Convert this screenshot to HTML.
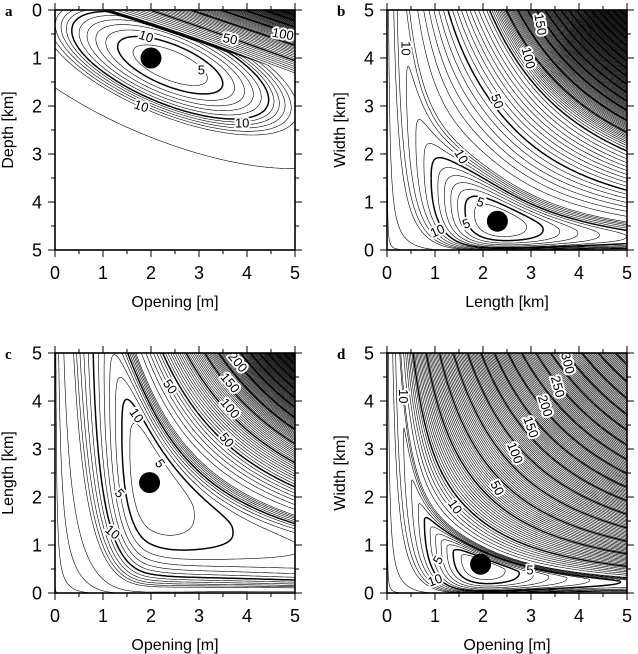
<!DOCTYPE html>
<html><head><meta charset="utf-8">
<style>
html,body{margin:0;padding:0;background:#fff;}
svg{display:block;font-family:"Liberation Sans",sans-serif;}
.tick{font-size:18px;fill:#000;}
.title{font-size:16px;fill:#000;}
.plet{font-family:"Liberation Serif",serif;font-weight:bold;font-size:15px;}
.clab{font-size:13px;fill:#000;stroke:#fff;stroke-width:4px;paint-order:stroke;stroke-linejoin:round;}
</style></head>
<body>
<svg id="fig" width="638" height="654" viewBox="0 0 638 654"></svg>
<script>
// ---- data arrays ----
const panelIds = ['a','b','c','d'];
const xTitles = ['Opening [m]','Length [km]','Opening [m]','Opening [m]'];
const yTitles = ['Depth [km]','Width [km]','Length [km]','Width [km]'];
const tickValues = [0,1,2,3,4,5];
const tickLabels = ['0','1','2','3','4','5'];
const bestX = [2.0, 2.3, 1.97, 1.95];
const bestY = [1.0, 0.6, 2.3, 0.6];
const valleyProduct = [0, 1.38, 4.6, 1.17];
const upperK = [0, 13.3, 71, 55];
const upperP = [0, 2.75, 3.6, 2.2];
const extraK = [0, 800, 600, 80];
const extraStart = [0, 2.0, 1.2, 1.8];
const lowerK = [0, 2, 3.3, 2];
const alongB = [0, 12, 12, 12];
const alongBRight = [0, 12, 5, 12];
const levels = [4,5,6,7,8,9,10,11,12,13,14,15];
for (let v = 20; v <= 1500; v += 5) levels.push(v);
const boldLevels = [5,10];
for (let v = 50; v <= 1500; v += 50) boldLevels.push(v);
const labelText = [
 ['10','5','10','10','50','100'],
 ['10','150','100','50','10','5','5','10'],
 ['200','150','100','50','50','10','5','5','10'],
 ['10','300','250','200','150','100','50','10','5','5','10']];
const labelX = [
 [1.9,3.05,1.8,3.9,3.65,4.75],
 [0.4,3.2,2.95,2.3,1.55,1.95,1.65,1.05],
 [3.81,3.65,3.65,2.4,3.58,1.7,2.19,1.35,1.2],
 [0.34,3.77,3.56,3.3,3.0,2.67,2.3,1.42,1.06,2.98,1.0]];
const labelY = [
 [0.55,1.25,2.0,2.35,0.6,0.5],
 [4.2,4.7,4.0,3.1,1.95,1.0,0.55,0.4],
 [4.81,4.38,3.85,4.3,3.19,3.7,2.7,2.08,1.27],
 [4.1,4.79,4.3,3.9,3.46,2.92,2.19,1.8,0.69,0.48,0.27]];
const labelAngle = [
 [18,0,18,0,12,10],
 [90,80,75,70,60,20,-20,-25],
 [50,50,50,55,50,55,55,50,40],
 [90,75,75,72,70,68,62,55,-60,0,-20]];

// ---- layout ----
const X0 = [55,387,55,387], YT = [10,10,353,353], SZ = 240, U = 48;
const NS = 'http://www.w3.org/2000/svg';
const svg = document.getElementById('fig');
function mk(tag, attrs, parent){const e=document.createElementNS(NS,tag);for(const k in attrs)e.setAttribute(k,attrs[k]);(parent||svg).appendChild(e);return e;}

function field(p, x, y){
  x = Math.max(x, 0.004); y = Math.max(y, 0.004);
  if (p === 0){
    const dx=x-2.4, dy=y-1.15;
    const s=dx*0.924+dy*0.383, t=-dx*0.383+dy*0.924;
    const Q=(s/1.23)*(s/1.23)+(t/0.45)*(t/0.45);
    const R = Q<=3.2 ? 2.2*Q : 7+11*(1-Math.exp(-(Q-3.2)*0.28));
    const a = Math.max(0, x-1-3*y);
    return 3 + R + 35*a + 3*a*a*a;
  }
  const L = Math.log(x*y/valleyProduct[p]);
  let g;
  if (L>0){
    const e = Math.max(0, L-extraStart[p]);
    g = upperK[p]*Math.pow(L,upperP[p]) + extraK[p]*e*e;
  } else {
    g = lowerK[p]*L*L/(1+0.15*L*L);
  }
  const s = Math.log(x/bestX[p]);
  const B = s>0 ? alongBRight[p] : alongB[p];
  return 3 + g + B*s*s/(0.6+s*s);
}

for (let p=0;p<4;p++){
  const x0=X0[p], yt=YT[p];
  const xs = v => x0 + v*U;
  const ys = v => p===0 ? yt + v*U : yt + SZ - v*U;
  const g = mk('g',{},svg);
  
  
  const cp = mk('clipPath',{id:'clip'+p},g);
  mk('rect',{x:x0,y:yt,width:SZ,height:SZ},cp);
  const N=240, vals=new Float64Array((N+1)*(N+1));
  for(let j=0;j<=N;j++)for(let i=0;i<=N;i++){
    const dx=i/N*5, dv=j/N*5;
    const dy = p===0 ? dv : 5-dv;
    vals[j*(N+1)+i]=field(p,dx,dy);
  }
  const paths = levels.map(()=>[]);
  const cs = SZ/N;
  for(let j=0;j<N;j++)for(let i=0;i<N;i++){
    const a=vals[j*(N+1)+i], b=vals[j*(N+1)+i+1], c=vals[(j+1)*(N+1)+i+1], d=vals[(j+1)*(N+1)+i];
    const mn=Math.min(a,b,c,d), mx=Math.max(a,b,c,d);
    for(let k=0;k<levels.length;k++){
      const L=levels[k]; if(L<mn) continue; if(L>mx) break;
      const px=x0+i*cs, py=yt+j*cs, pts=[];
      if((a<L)!==(b<L)) pts.push([px+cs*(L-a)/(b-a), py]);
      if((b<L)!==(c<L)) pts.push([px+cs, py+cs*(L-b)/(c-b)]);
      if((c<L)!==(d<L)) pts.push([px+cs*(L-d)/(c-d), py+cs]);
      if((d<L)!==(a<L)) pts.push([px, py+cs*(L-a)/(d-a)]);
      for(let q=0;q+1<pts.length;q+=2)
        paths[k].push('M'+pts[q][0].toFixed(1)+' '+pts[q][1].toFixed(1)+'L'+pts[q+1][0].toFixed(1)+' '+pts[q+1][1].toFixed(1));
    }
  }
  const cg = mk('g',{'clip-path':'url(#clip'+p+')'},g);
  for(let k=0;k<levels.length;k++){
    if(!paths[k].length) continue;
    const bold = boldLevels.includes(levels[k]);
    const e = mk('path',{d:paths[k].join(''),fill:'none',stroke:'#000','stroke-width':bold?1.5:0.6},cg);
    
    
  }
  for(let k=0;k<labelText[p].length;k++){
    const lx=xs(labelX[p][k]), ly=ys(labelY[p][k]);
    const t = mk('text',{x:lx,y:ly+4.5,'text-anchor':'middle',class:'clab',transform:'rotate('+labelAngle[p][k]+' '+lx+' '+ly+')'},g);
    t.textContent = labelText[p][k];
    
    
  }
  const dot = mk('circle',{cx:xs(bestX[p]),cy:ys(bestY[p]),r:10.5,fill:'#000'},g);
  
  
  const fr = mk('rect',{x:x0,y:yt,width:SZ,height:SZ,fill:'none',stroke:'#000','stroke-width':1.6},g);
  
  
  let td='';
  for(let v=0;v<=10;v++){
    const len = v%2===0?7:4, o=v*U/2;
    td+='M'+(x0+o)+' '+(yt+SZ)+'v'+len+'M'+(x0+o)+' '+yt+'v'+(-len);
    td+='M'+x0+' '+(yt+o)+'h'+(-len)+'M'+(x0+SZ)+' '+(yt+o)+'h'+len;
  }
  const tk = mk('path',{d:td,stroke:'#000','stroke-width':1,fill:'none'},g);
  
  
  for(let k=0;k<tickValues.length;k++){
    const tx = mk('text',{x:xs(tickValues[k]),y:yt+SZ+29,'text-anchor':'middle',class:'tick'},g);
    tx.textContent=tickLabels[k];
    
    
    const ty = mk('text',{x:x0-13,y:ys(tickValues[k])+6.5,'text-anchor':'end',class:'tick'},g);
    ty.textContent=tickLabels[k];
    
    
  }
  const xt = mk('text',{x:x0+SZ/2,y:yt+SZ+57,'text-anchor':'middle',class:'title'},g);
  xt.textContent=xTitles[p];
  
  
  const yx = x0-42, yy = yt+SZ/2;
  const yt2 = mk('text',{x:yx,y:yy,'text-anchor':'middle',class:'title',transform:'rotate(-90 '+yx+' '+yy+')'},g);
  yt2.textContent=yTitles[p];
  
  
  const pl = mk('text',{x:x0-50,y:yt+6,class:'plet'},g);
  pl.textContent=panelIds[p];
  
  
}
</script>
</body></html>
